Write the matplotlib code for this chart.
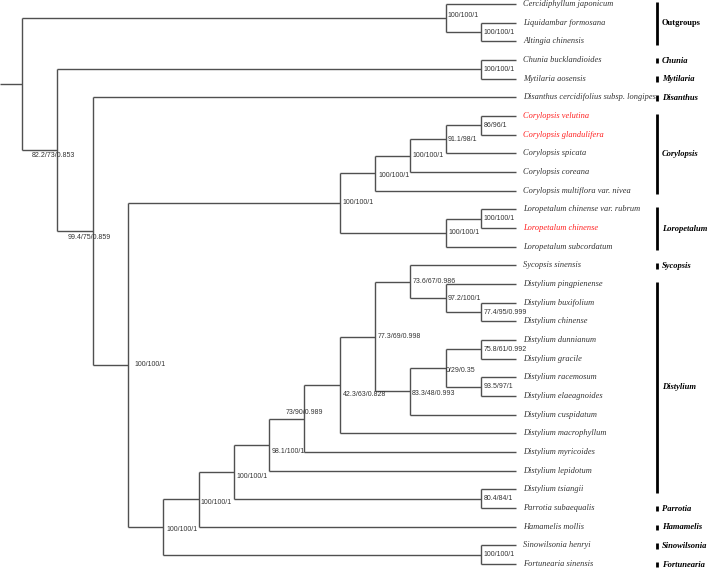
import matplotlib.pyplot as plt

# tips, top to bottom
tips = [
    "Cercidiphyllum japonicum", "Liquidambar formosana", "Altingia chinensis",
    "Chunia bucklandioides", "Mytilaria aosensis",
    "Disanthus cercidifolius subsp. longipes",
    "Corylopsis velutina", "Corylopsis glandulifera", "Corylopsis spicata",
    "Corylopsis coreana", "Corylopsis multiflora var. nivea",
    "Loropetalum chinense var. rubrum", "Loropetalum chinense",
    "Loropetalum subcordatum",
    "Sycopsis sinensis", "Distylium pingpienense", "Distylium buxifolium",
    "Distylium chinense", "Distylium dunnianum", "Distylium gracile",
    "Distylium racemosum", "Distylium elaeagnoides", "Distylium cuspidatum",
    "Distylium macrophyllum", "Distylium myricoides", "Distylium lepidotum",
    "Distylium tsiangii", "Parrotia subaequalis", "Hamamelis mollis",
    "Sinowilsonia henryi", "Fortunearia sinensis",
]
red_tips = ["Corylopsis velutina", "Corylopsis glandulifera", "Loropetalum chinense"]

# internal nodes: name, children, support
node_names = ["root", "out", "liq", "B", "chun", "C", "D", "E",
              "cory", "cory2", "cory3", "cory4", "loro", "loro2",
              "F", "sino", "G", "H", "tsi", "I", "J", "K", "L",
              "M", "O", "P", "N", "Q", "R", "S"]
node_children = [
    ["out", "B"],
    ["Cercidiphyllum japonicum", "liq"],
    ["Liquidambar formosana", "Altingia chinensis"],
    ["chun", "C"],
    ["Chunia bucklandioides", "Mytilaria aosensis"],
    ["Disanthus cercidifolius subsp. longipes", "D"],
    ["E", "F"],
    ["cory", "loro"],
    ["cory2", "Corylopsis multiflora var. nivea"],
    ["cory3", "Corylopsis coreana"],
    ["cory4", "Corylopsis spicata"],
    ["Corylopsis velutina", "Corylopsis glandulifera"],
    ["loro2", "Loropetalum subcordatum"],
    ["Loropetalum chinense var. rubrum", "Loropetalum chinense"],
    ["G", "sino"],
    ["Sinowilsonia henryi", "Fortunearia sinensis"],
    ["H", "Hamamelis mollis"],
    ["I", "tsi"],
    ["Distylium tsiangii", "Parrotia subaequalis"],
    ["J", "Distylium lepidotum"],
    ["K", "Distylium myricoides"],
    ["L", "Distylium macrophyllum"],
    ["M", "N"],
    ["Sycopsis sinensis", "O"],
    ["Distylium pingpienense", "P"],
    ["Distylium buxifolium", "Distylium chinense"],
    ["Q", "Distylium cuspidatum"],
    ["R", "S"],
    ["Distylium dunnianum", "Distylium gracile"],
    ["Distylium racemosum", "Distylium elaeagnoides"],
]
node_support = [
    "", "100/100/1", "100/100/1", "82.2/73/0.853", "100/100/1",
    "99.4/75/0.859", "100/100/1", "100/100/1",
    "100/100/1", "100/100/1", "91.1/98/1", "86/96/1", "100/100/1", "100/100/1",
    "100/100/1", "100/100/1", "100/100/1", "100/100/1", "80.4/84/1",
    "98.1/100/1", "73/90/0.989", "42.3/63/0.828", "77.3/69/0.998",
    "73.6/67/0.986", "97.2/100/1", "77.4/95/0.999", "83.3/48/0.993",
    "0/29/0.35", "75.8/61/0.992", "93.5/97/1",
]

clade_names = ["Outgroups", "Chunia", "Mytilaria", "Disanthus", "Corylopsis",
               "Loropetalum", "Sycopsis", "Distylium", "Parrotia", "Hamamelis",
               "Sinowilsonia", "Fortunearia"]
clade_first = ["Cercidiphyllum japonicum", "Chunia bucklandioides",
               "Mytilaria aosensis", "Disanthus cercidifolius subsp. longipes",
               "Corylopsis velutina", "Loropetalum chinense var. rubrum",
               "Sycopsis sinensis", "Distylium pingpienense",
               "Parrotia subaequalis", "Hamamelis mollis",
               "Sinowilsonia henryi", "Fortunearia sinensis"]
clade_last = ["Altingia chinensis", "Chunia bucklandioides",
              "Mytilaria aosensis", "Disanthus cercidifolius subsp. longipes",
              "Corylopsis multiflora var. nivea", "Loropetalum subcordatum",
              "Sycopsis sinensis", "Distylium tsiangii",
              "Parrotia subaequalis", "Hamamelis mollis",
              "Sinowilsonia henryi", "Fortunearia sinensis"]

# label nudges in pixels (dx, dy down, ha)
label_nudge = {
    "B": (-3.5, 5.5, "center"), "C": (-3.5, 6.5, "center"), "D": (7, 0, "left"),
    "out": (1.5, -3, "left"), "K": (3, 10, "left"), "J": (0, -6.5, "center"),
    "I": (3, 6.5, "left"), "H": (3, 4.5, "left"), "G": (2, 3.5, "left"),
    "F": (3, 2.5, "left"), "cory": (3, 2, "left"), "N": (1.5, 2.5, "left"),
    "Q": (0.5, 2.5, "left"),
}

# layout: y = tip order, x = levels (cladogram)
children = dict(zip(node_names, node_children))
support = dict(zip(node_names, node_support))
ypos = {t: i for i, t in enumerate(tips)}
height = {t: 0 for t in tips}


def place(n):
    if n in ypos:
        return
    for c in children[n]:
        place(c)
    ypos[n] = sum(ypos[c] for c in children[n]) / len(children[n])
    height[n] = 1 + max(height[c] for c in children[n])


place("root")
H = height["root"]
xpos = {n: H - h for n, h in height.items()}

fig = plt.figure(figsize=(7.09, 5.71), dpi=100)
ax = fig.add_axes([0, 0, 1, 1])
px_x, px_y = 35.3, 18.67
ax.set_xlim(-22 / px_x, (709 - 22) / px_x)
ax.set_ylim((571 - 4) / px_y, -4 / px_y)
ax.axis("off")

line_kw = dict(color="#505050", lw=1.0, solid_capstyle="butt")
ax.plot([ax.get_xlim()[0], 0], [ypos["root"]] * 2, **line_kw)
for n in node_names:
    cy = [ypos[c] for c in children[n]]
    ax.plot([xpos[n]] * 2, [min(cy), max(cy)], **line_kw)
    for c in children[n]:
        ax.plot([xpos[n], xpos[c]], [ypos[c]] * 2, **line_kw)
    if support[n]:
        dx, dy, ha = label_nudge.get(n, (2.5, 0, "left"))
        ax.annotate(support[n], (xpos[n], ypos[n]), xytext=(dx * 0.72, -dy * 0.72),
                    textcoords="offset points", ha=ha, va="center",
                    fontsize=5, family="Liberation Sans", color="#333333")

for t in tips:
    ax.annotate(t, (H, ypos[t]), xytext=(7 * 0.72, 0), textcoords="offset points",
                ha="left", va="center", fontsize=6, style="italic",
                family="Liberation Serif",
                color="#ff2020" if t in red_tips else "#333333")

bar_x = H + 4
for name, first, last in zip(clade_names, clade_first, clade_last):
    y0, y1 = ypos[first] - 0.12, ypos[last] + 0.18
    ax.plot([bar_x, bar_x], [y0, y1], color="black", lw=2, solid_capstyle="butt")
    ax.text(bar_x + 0.13, (y0 + y1) / 2, name, ha="left", va="center",
            fontsize=6.1, fontweight="bold", family="Liberation Serif",
            style="normal" if name == "Outgroups" else "italic", color="black")

fig.savefig("out.png", dpi=100)
